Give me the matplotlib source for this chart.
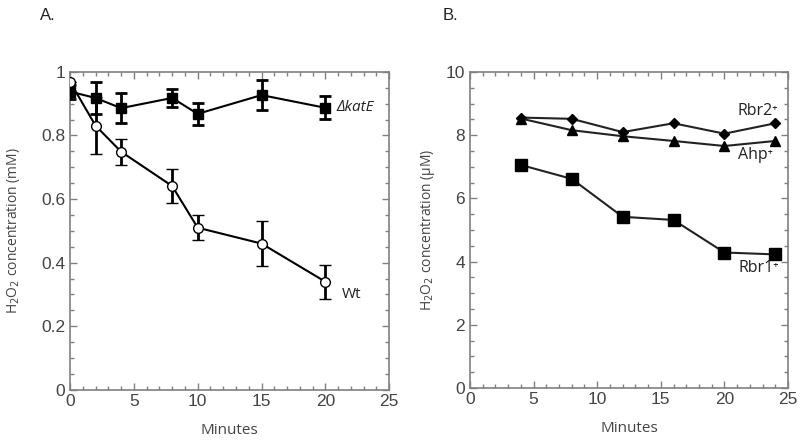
import numpy as np
import matplotlib
matplotlib.use("Agg")
import matplotlib.pyplot as plt
from matplotlib.ticker import MultipleLocator, FormatStrFormatter

# Panel A data
minA = [0, 2, 4, 8, 10, 15, 20]
katE = [0.938, 0.918, 0.886, 0.918, 0.868, 0.927, 0.887]
katE_err = [0.022, 0.05, 0.047, 0.028, 0.035, 0.046, 0.036]
wt = [0.969, 0.831, 0.749, 0.641, 0.510, 0.460, 0.340]
wt_err = [0.0, 0.09, 0.041, 0.053, 0.039, 0.07, 0.054]

# Panel B data
minB = [4, 8, 12, 16, 20, 24]
rbr2 = [8.56, 8.52, 8.10, 8.38, 8.05, 8.38]
ahp = [8.53, 8.16, 7.97, 7.82, 7.66, 7.82]
rbr1 = [7.06, 6.62, 5.42, 5.32, 4.29, 4.23]

spine_col = "#808080"
txt_col = "#444444"
fam = ["Open Sans", "DejaVu Sans"]

fig = plt.figure(figsize=(8, 4.41), dpi=100)
axA = fig.add_axes([0.0875, 0.116, 0.399, 0.721])
axB = fig.add_axes([0.5875, 0.120, 0.3975, 0.7166])


def style(ax, ymax, ymajor, yminor):
    ax.set_xlim(0, 25)
    ax.set_ylim(0, ymax)
    ax.xaxis.set_major_locator(MultipleLocator(5))
    ax.xaxis.set_minor_locator(MultipleLocator(1))
    ax.yaxis.set_major_locator(MultipleLocator(ymajor))
    ax.yaxis.set_minor_locator(MultipleLocator(yminor))
    ax.yaxis.set_major_formatter(FormatStrFormatter("%g"))
    ax.tick_params(which="both", direction="in", top=True, right=True,
                   color=spine_col, labelcolor=txt_col, labelsize=12.5)
    ax.tick_params(which="major", length=5, width=1)
    ax.tick_params(which="minor", length=3, width=1)
    ax.tick_params(axis="x", pad=3)
    for s in ax.spines.values():
        s.set_color(spine_col)
        s.set_linewidth(1.2)
    ax.set_xlabel("Minutes", fontsize=11, color=txt_col, family=fam, labelpad=10)
    for lab in ax.get_xticklabels() + ax.get_yticklabels():
        lab.set_family("Liberation Sans")


style(axA, 1, 0.2, 0.05)
style(axB, 10, 2, 0.5)

# Panel A
axA.errorbar(minA, katE, yerr=katE_err, color="black", lw=1.5, marker="s", ms=7,
             mfc="black", mec="black", capsize=4, capthick=2, elinewidth=2, zorder=3)
axA.errorbar(minA, wt, yerr=wt_err, color="black", lw=1.5, marker="o", ms=7,
             mfc="white", mec="black", mew=1, capsize=4, capthick=2, elinewidth=2, zorder=4)
axA.text(20.9, 0.888, "ΔkatE", fontsize=11, style="italic", va="center", color="#222222",
         family=fam)
axA.text(21.3, 0.30, "Wt", fontsize=11, va="center", color="#222222", family=fam)
axA.set_ylabel("H$_2$O$_2$ concentration (mM)", fontsize=10, color=txt_col, family=fam,
               labelpad=14)

fig.text(0.05, 0.965, "A.", fontsize=12, color="#222222", family="Liberation Sans", va="center")

# Panel B
axB.plot(minB, rbr2, color="#222222", lw=1.5, marker="D", ms=5.5, mfc="black", mec="black")
axB.plot(minB, ahp, color="#222222", lw=1.5, marker="^", ms=7, mfc="black", mec="black")
axB.plot(minB, rbr1, color="#222222", lw=1.5, marker="s", ms=8, mfc="black", mec="black")
axB.text(21.0, 8.78, "Rbr2⁺", fontsize=11.5, va="center", color="#222222", family=fam)
axB.text(21.1, 7.38, "Ahp⁺", fontsize=11.5, va="center", color="#222222", family=fam)
axB.text(21.1, 3.80, "Rbr1⁺", fontsize=11.5, va="center", color="#222222", family=fam)
axB.set_ylabel("H$_2$O$_2$ concentration (μM)", fontsize=10, color=txt_col, family=fam,
               labelpad=6)
fig.text(0.553, 0.965, "B.", fontsize=12, color="#222222", family="Liberation Sans", va="center")

fig.savefig("out.png", dpi=100)
